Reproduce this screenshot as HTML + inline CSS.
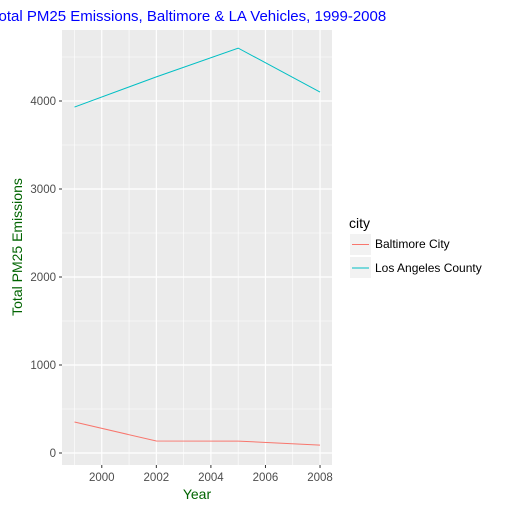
<!DOCTYPE html>
<html><head><style>body{margin:0;background:#fff}svg{display:block;font-family:"Liberation Sans",Arial,sans-serif}</style></head>
<body>
<svg id="c" width="510" height="510">
<text x="-9" y="21" font-size="15" fill="#0000ff">Total PM25 Emissions, Baltimore &amp; LA Vehicles, 1999-2008</text>
<rect x="62" y="30" width="270" height="435" fill="#ebebeb"/>
<g id="grid"></g><g id="series"></g><g id="axes"></g>
<text x="197" y="499" font-size="14" fill="#006400" text-anchor="middle">Year</text>
<text transform="translate(22,247) rotate(-90)" font-size="14" fill="#006400" text-anchor="middle">Total PM25 Emissions</text>
<text x="349" y="228" font-size="14" fill="#000">city</text>
<g><rect x="350" y="234" width="21" height="21" fill="#f2f2f2"/><line x1="352" y1="244.5" x2="369" y2="244.5" stroke="#f8766d"/><text x="375" y="248" font-size="12">Baltimore City</text></g>
<g><rect x="350" y="257" width="21" height="21" fill="#f2f2f2"/><line x1="352" y1="268" x2="369" y2="268" stroke="#00bfc4"/><text x="375" y="272" font-size="12">Los Angeles County</text></g>
</svg>
<script>
const years=[1999,2002,2005,2008];
const baltimore=[352,136,135,90];
const losAngeles=[3931,4274,4601,4101];
const xTicks=[2000,2002,2004,2006,2008];
const yTicks=[0,1000,2000,3000,4000];
const NS="http://www.w3.org/2000/svg";
const X=y=>74.5+(y-1999)*27.28;
const Y=v=>453-v*0.088;
function mk(t,a,p){const e=document.createElementNS(NS,t);for(const k in a)e.setAttribute(k,a[k]);document.getElementById(p).appendChild(e);return e;}
for(let y=1999;y<=2009;y+=2){const l=mk('line',{x1:X(y),x2:X(y),y1:30,y2:465,stroke:'#fff','stroke-width':0.6},'grid');

}
for(let v=500;v<4700;v+=1000){const l=mk('line',{x1:62,x2:332,y1:Y(v),y2:Y(v),stroke:'#fff','stroke-width':0.6},'grid');

}
xTicks.forEach(t=>{const l=mk('line',{x1:X(t),x2:X(t),y1:30,y2:465,stroke:'#fff','stroke-width':1.2},'grid');


mk('line',{x1:X(t),x2:X(t),y1:465,y2:468,stroke:'#333'},'axes');
const tx=mk('text',{x:X(t),y:481,'font-size':11.5,fill:'#4d4d4d','text-anchor':'middle'},'axes');tx.textContent=t;

});
yTicks.forEach(t=>{const l=mk('line',{x1:62,x2:332,y1:Y(t),y2:Y(t),stroke:'#fff','stroke-width':1.2},'grid');


mk('line',{x1:59,x2:62,y1:Y(t),y2:Y(t),stroke:'#333'},'axes');
const tx=mk('text',{x:56,y:Y(t)+4,'font-size':11.5,fill:'#4d4d4d','text-anchor':'end'},'axes');tx.textContent=t;

});
function line(vals,col,name){const p=mk('polyline',{points:vals.map((v,i)=>X(years[i])+','+Y(v)).join(' '),fill:'none',stroke:col,'stroke-width':1},'series');

}
line(baltimore,'#f8766d','baltimore-line');
line(losAngeles,'#00bfc4','los-angeles-line');
</script>
</body></html>
